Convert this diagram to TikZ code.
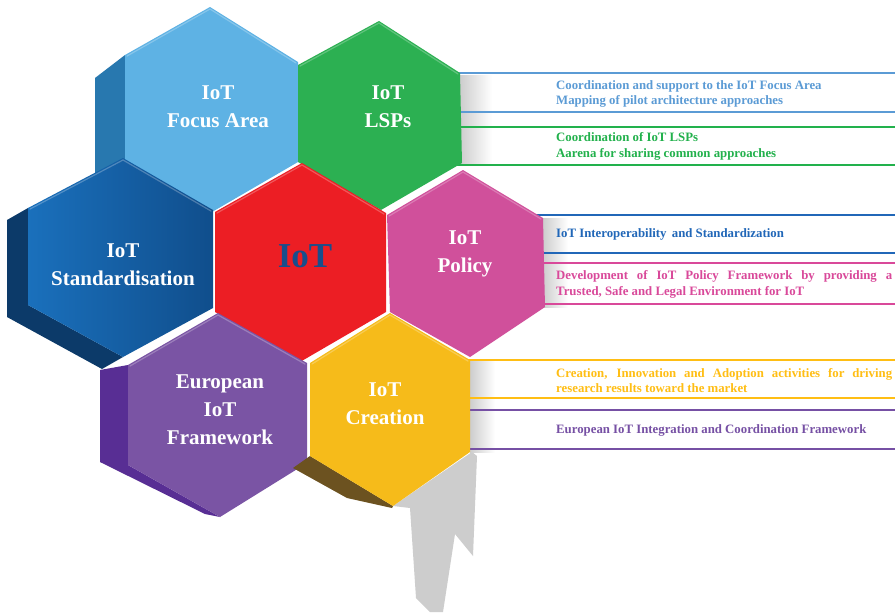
\documentclass[tikz,border=0pt]{standalone}
\usepackage{fontspec}
\setmainfont{Liberation Serif}
\definecolor{cFocus}{RGB}{94,178,228}
\definecolor{cFocusS}{RGB}{40,120,175}
\definecolor{cLSP}{RGB}{44,176,82}
\definecolor{cStdL}{RGB}{26,112,188}
\definecolor{cStdR}{RGB}{16,78,140}
\definecolor{cStdS}{RGB}{12,58,105}
\definecolor{cRed}{RGB}{236,30,36}
\definecolor{cPol}{RGB}{208,80,155}
\definecolor{cPur}{RGB}{122,84,164}
\definecolor{cPurS}{RGB}{88,46,148}
\definecolor{cYel}{RGB}{246,187,26}
\definecolor{cYelS}{RGB}{108,82,32}
\definecolor{cIoT}{RGB}{24,78,140}
\definecolor{tLB}{RGB}{91,155,213}
\definecolor{tGR}{RGB}{34,177,76}
\definecolor{tDB}{RGB}{33,103,184}
\definecolor{tPK}{RGB}{217,73,154}
\definecolor{tYE}{RGB}{255,190,20}
\definecolor{tPU}{RGB}{118,80,164}
\definecolor{cShad}{RGB}{205,205,205}
\begin{document}
\begin{tikzpicture}[x=1pt,y=-1pt,
  hexlabel/.style={text=white,align=center,inner sep=0pt,
    font=\bfseries\fontsize{21}{28}\selectfont},
  rule/.style={line width=2.3pt},
  desc/.style={anchor=west,inner sep=0pt,text width=336pt,align=justify,
    font=\bfseries\fontsize{12.8}{15.5}\selectfont},
  hilite/.style={line width=1.2pt,white,opacity=0.25,line cap=round,line join=round}]
\useasboundingbox[fill=white] (0,0) rectangle (895,614);

% ---- shadows ----
\fill[cShad] (393,506) -- (472,452) -- (477,456) -- (473,556) -- (455,534)
  -- (443,612) -- (430,612) -- (416,598) -- (410,508) -- cycle;
\shade[left color=cShad,right color=white] (460,75) rectangle (492,165);
\shade[left color=cShad,right color=white] (543,218) rectangle (568,307);
\shade[left color=cShad,right color=white] (470,360) rectangle (495,452);

% ---- rules on the right ----
\draw[rule,tLB] (455,73) -- (895,73);
\draw[rule,tLB] (455,112) -- (895,112);
\draw[rule,tGR] (455,127) -- (895,127);
\draw[rule,tGR] (455,165) -- (895,165);
\draw[rule,tDB] (520,215) -- (895,215);
\draw[rule,tDB] (535,253) -- (895,253);
\draw[rule,tPK] (535,263) -- (895,263);
\draw[rule,tPK] (535,304) -- (895,304);
\draw[rule,tYE] (455,360) -- (895,360);
\draw[rule,tYE] (455,398) -- (895,398);
\draw[rule,tPU] (455,410) -- (895,410);
\draw[rule,tPU] (455,449) -- (895,449);

% ---- descriptions ----
\node[desc,text=tLB] (dfocus) at (556,94) {Coordination and support to the IoT Focus Area\\Mapping of pilot architecture approaches};
\node[desc,text=tGR] (dlsp) at (556,146.5) {Coordination of IoT LSPs\\Aarena for sharing common approaches};
\node[desc,text=tDB] (dstd) at (556,234) {IoT Interoperability\, and Standardization};
\node[desc,text=tPK] (dpol) at (556,284.5) {Development of IoT Policy Framework by providing a\linebreak Trusted, Safe and Legal Environment for IoT};
\node[desc,text=tYE] (dcre) at (556,380.5) {Creation, Innovation and Adoption activities for driving\linebreak research results toward the market};
\node[desc,text=tPU] (deur) at (556,430) {European IoT Integration and Coordination Framework};

% ---- Focus Area ----
\fill[cFocusS] (125,55) -- (95,78) -- (95,180) -- (180,225) -- (212,212) -- (125,160) -- cycle;
\fill[cFocus] (210,7) -- (298,62) -- (298,162) -- (212,212) -- (125,160) -- (125,55) -- cycle;
\draw[hilite] (127,56) -- (210,9) -- (296,63);
% ---- LSPs ----
\fill[cLSP] (379,21) -- (460,73) -- (462,163) -- (381,210) -- (298,162) -- (298,65) -- cycle;
\draw[hilite] (300,66) -- (379,23) -- (458,74);
% ---- Standardisation ----
\fill[cStdS] (28,208) -- (7,220) -- (7,317) -- (102,369) -- (123,357) -- (28,305) -- cycle;
\shade[left color=cStdL,right color=cStdR] (123,158) -- (213,210) -- (213,308) -- (123,357) -- (28,305) -- (28,208) -- cycle;
\draw[hilite] (30,209) -- (123,160) -- (211,211);
% ---- central IoT ----
\fill[cRed] (302,163) -- (386,213) -- (386,312) -- (300,362) -- (215,312) -- (215,212) -- cycle;
\draw[hilite] (217,213) -- (302,165) -- (384,214);
% ---- Policy ----
\fill[cPol] (463,170) -- (543,218) -- (545,307) -- (470,357) -- (390,312) -- (387,215) -- cycle;
\draw[hilite] (389,216) -- (463,172) -- (541,219);
% ---- European IoT Framework ----
\fill[cPurS] (128,365) -- (100,370) -- (100,462) -- (205,514) -- (220,517) -- (128,465) -- cycle;
\fill[cPur] (218,313) -- (307,363) -- (307,463) -- (220,517) -- (128,465) -- (128,365) -- cycle;
\draw[hilite] (130,366) -- (218,315) -- (305,364);
% ---- Creation ----
\fill[cYelS] (310,456) -- (293,468) -- (347,498) -- (392,508) -- (393,506) -- cycle;
\fill[cYel] (390,313) -- (470,360) -- (470,452) -- (393,506) -- (310,456) -- (310,363) -- cycle;
\draw[hilite] (312,364) -- (390,315) -- (468,361);

% ---- hex labels ----
\node[hexlabel] (lfocus) at (218,107) {IoT\\Focus Area};
\node[hexlabel] (llsp) at (388,107) {IoT\\LSPs};
\node[hexlabel] (lstd) at (123,265) {IoT\\Standardisation};
\node[inner sep=0pt,text=cIoT,font=\bfseries\fontsize{35}{40}\selectfont] (liot) at (305,256) {IoT};
\node[hexlabel] (lpol) at (465,254) {IoT\\Policy};
\node[hexlabel] (leur) at (220,409.5) {European\\IoT\\Framework};
\node[hexlabel] (lcre) at (385,404) {IoT\\Creation};
\end{tikzpicture}
\end{document}
